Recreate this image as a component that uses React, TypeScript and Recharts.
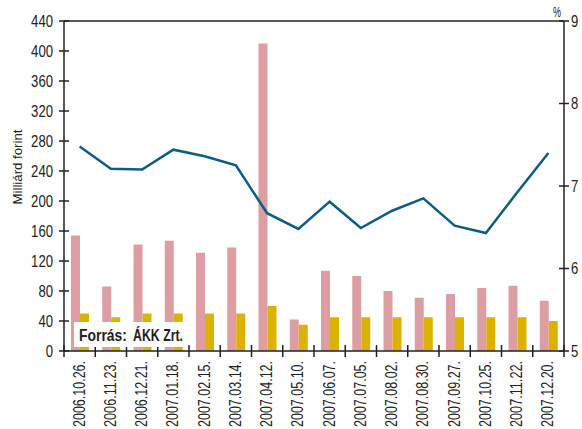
import { ComposedChart, Bar, Line, XAxis, YAxis, ReferenceLine } from 'recharts';

const dates = [
  '2006.10.26.', '2006.11.23.', '2006.12.21.', '2007.01.18.', '2007.02.15.', '2007.03.14.',
  '2007.04.12.', '2007.05.10.', '2007.06.07.', '2007.07.05.', '2007.08.02.', '2007.08.30.',
  '2007.09.27.', '2007.10.25.', '2007.11.22.', '2007.12.20.',
];
const offered = [154, 86, 142, 147, 131, 138, 410, 42, 107, 100, 80, 71, 76, 84, 87, 67];
const accepted = [50, 45, 50, 50, 50, 50, 60, 35, 45, 45, 45, 45, 45, 45, 45, 40];
const avgYield = [7.48, 7.21, 7.2, 7.44, 7.36, 7.25, 6.67, 6.48, 6.81, 6.49, 6.7, 6.85, 6.52, 6.43, 6.92, 7.4];

const leftTicks = [0, 40, 80, 120, 160, 200, 240, 280, 320, 360, 400, 440];
const rightTicks = [5, 6, 7, 8, 9];

const data = dates.map((d, i) => ({ d, a: offered[i], b: accepted[i], y: avgYield[i] }));

// no narrow font installed, so squeeze Liberation Sans with textLength
const FONT = "'Liberation Sans', Arial, sans-serif";
const AXIS = '#222';
const BAND = 500 / dates.length;

const LeftTick = ({ x, y, payload }: any) => {
  const s = String(payload.value);
  return (
    <g>
      <line x1={x - 5} x2={x + 5} y1={y} y2={y} stroke={AXIS} strokeWidth={1.5} />
      <text x={x - 11} y={y} dy={5.5} textAnchor="end" fontSize={16} fill="#222" fontFamily={FONT}
        textLength={s.length * 7.3} lengthAdjust="spacingAndGlyphs">
        {s}
      </text>
    </g>
  );
};

const RightTick = ({ x, y, payload }: any) => (
  <g>
    <line x1={x - 5} x2={x + 5} y1={y} y2={y} stroke={AXIS} strokeWidth={1.5} />
    <text x={x + 7} y={y} dy={5.5} textAnchor="start" fontSize={16} fill="#222" fontFamily={FONT}
      textLength={7.3} lengthAdjust="spacingAndGlyphs">
      {payload.value}
    </text>
  </g>
);

const DateTick = ({ x, y, payload, index }: any) => (
  <g>
    <line x1={x - BAND / 2} x2={x - BAND / 2} y1={y - 6} y2={y + 6} stroke={AXIS} strokeWidth={1.5} />
    {index === dates.length - 1 && (
      <line x1={x + BAND / 2} x2={x + BAND / 2} y1={y - 6} y2={y + 6} stroke={AXIS} strokeWidth={1.5} />
    )}
    <text
      x={x + 5}
      y={y + 10}
      transform={`rotate(-90, ${x + 5}, ${y + 10})`}
      textAnchor="end"
      fontSize={16}
      fill="#222"
      fontFamily={FONT}
      textLength={66}
      lengthAdjust="spacingAndGlyphs"
    >
      {payload.value}
    </text>
  </g>
);

export default function App() {
  return (
    <div style={{ position: 'absolute', left: 0, top: 0, width: 582, height: 429, background: '#fff' }}>
      <ComposedChart width={582} height={429} data={data} margin={{ top: 21, right: 0, bottom: 0, left: 0 }} barGap={0}>
        <XAxis
          dataKey="d"
          interval={0}
          height={78}
          tickSize={0}
          tickMargin={0}
          tick={<DateTick />}
          axisLine={{ stroke: AXIS, strokeWidth: 1.5 }}
        />
        <YAxis
          yAxisId="l"
          domain={[0, 440]}
          ticks={leftTicks}
          width={64}
          tickSize={0}
          tickMargin={0}
          tick={<LeftTick />}
          axisLine={{ stroke: AXIS, strokeWidth: 1.5 }}
        />
        <YAxis
          yAxisId="r"
          orientation="right"
          domain={[5, 9]}
          ticks={rightTicks}
          width={18}
          tickSize={0}
          tickMargin={0}
          tick={<RightTick />}
          axisLine={{ stroke: AXIS, strokeWidth: 1.5 }}
        />
        <ReferenceLine yAxisId="l" y={440} stroke={AXIS} strokeWidth={1.5} />
        <Bar yAxisId="l" dataKey="a" fill="#dd9ea3" barSize={9} isAnimationActive={false} />
        <Bar yAxisId="l" dataKey="b" fill="#dcb200" barSize={9} isAnimationActive={false} />
        <Line yAxisId="r" dataKey="y" stroke="#0b5d86" strokeWidth={2.5} dot={false} type="linear" isAnimationActive={false} />
      </ComposedChart>
      <svg width={582} height={429} style={{ position: 'absolute', left: 0, top: 0, pointerEvents: 'none' }}>
        <text x={553} y={17} fontSize={14} fill="#222" fontFamily={FONT} textLength={8} lengthAdjust="spacingAndGlyphs">%</text>
        <text x={22} y={167} transform="rotate(-90, 22, 167)" textAnchor="middle" fontSize={13} fill="#222"
          fontFamily={FONT} textLength={75} lengthAdjust="spacingAndGlyphs">
          Milliárd forint
        </text>
        <rect x={74} y={322} width={111} height={25} fill="#fff" />
        <text x={79} y={341} fontSize={17} fontWeight="bold" fill="#222" fontFamily={FONT}
          textLength={48} lengthAdjust="spacingAndGlyphs">
          Forrás:
        </text>
        <text x={133} y={341} fontSize={17} fontWeight="bold" fill="#222" fontFamily={FONT}
          textLength={50} lengthAdjust="spacingAndGlyphs">
          ÁKK Zrt.
        </text>
      </svg>
    </div>
  );
}
